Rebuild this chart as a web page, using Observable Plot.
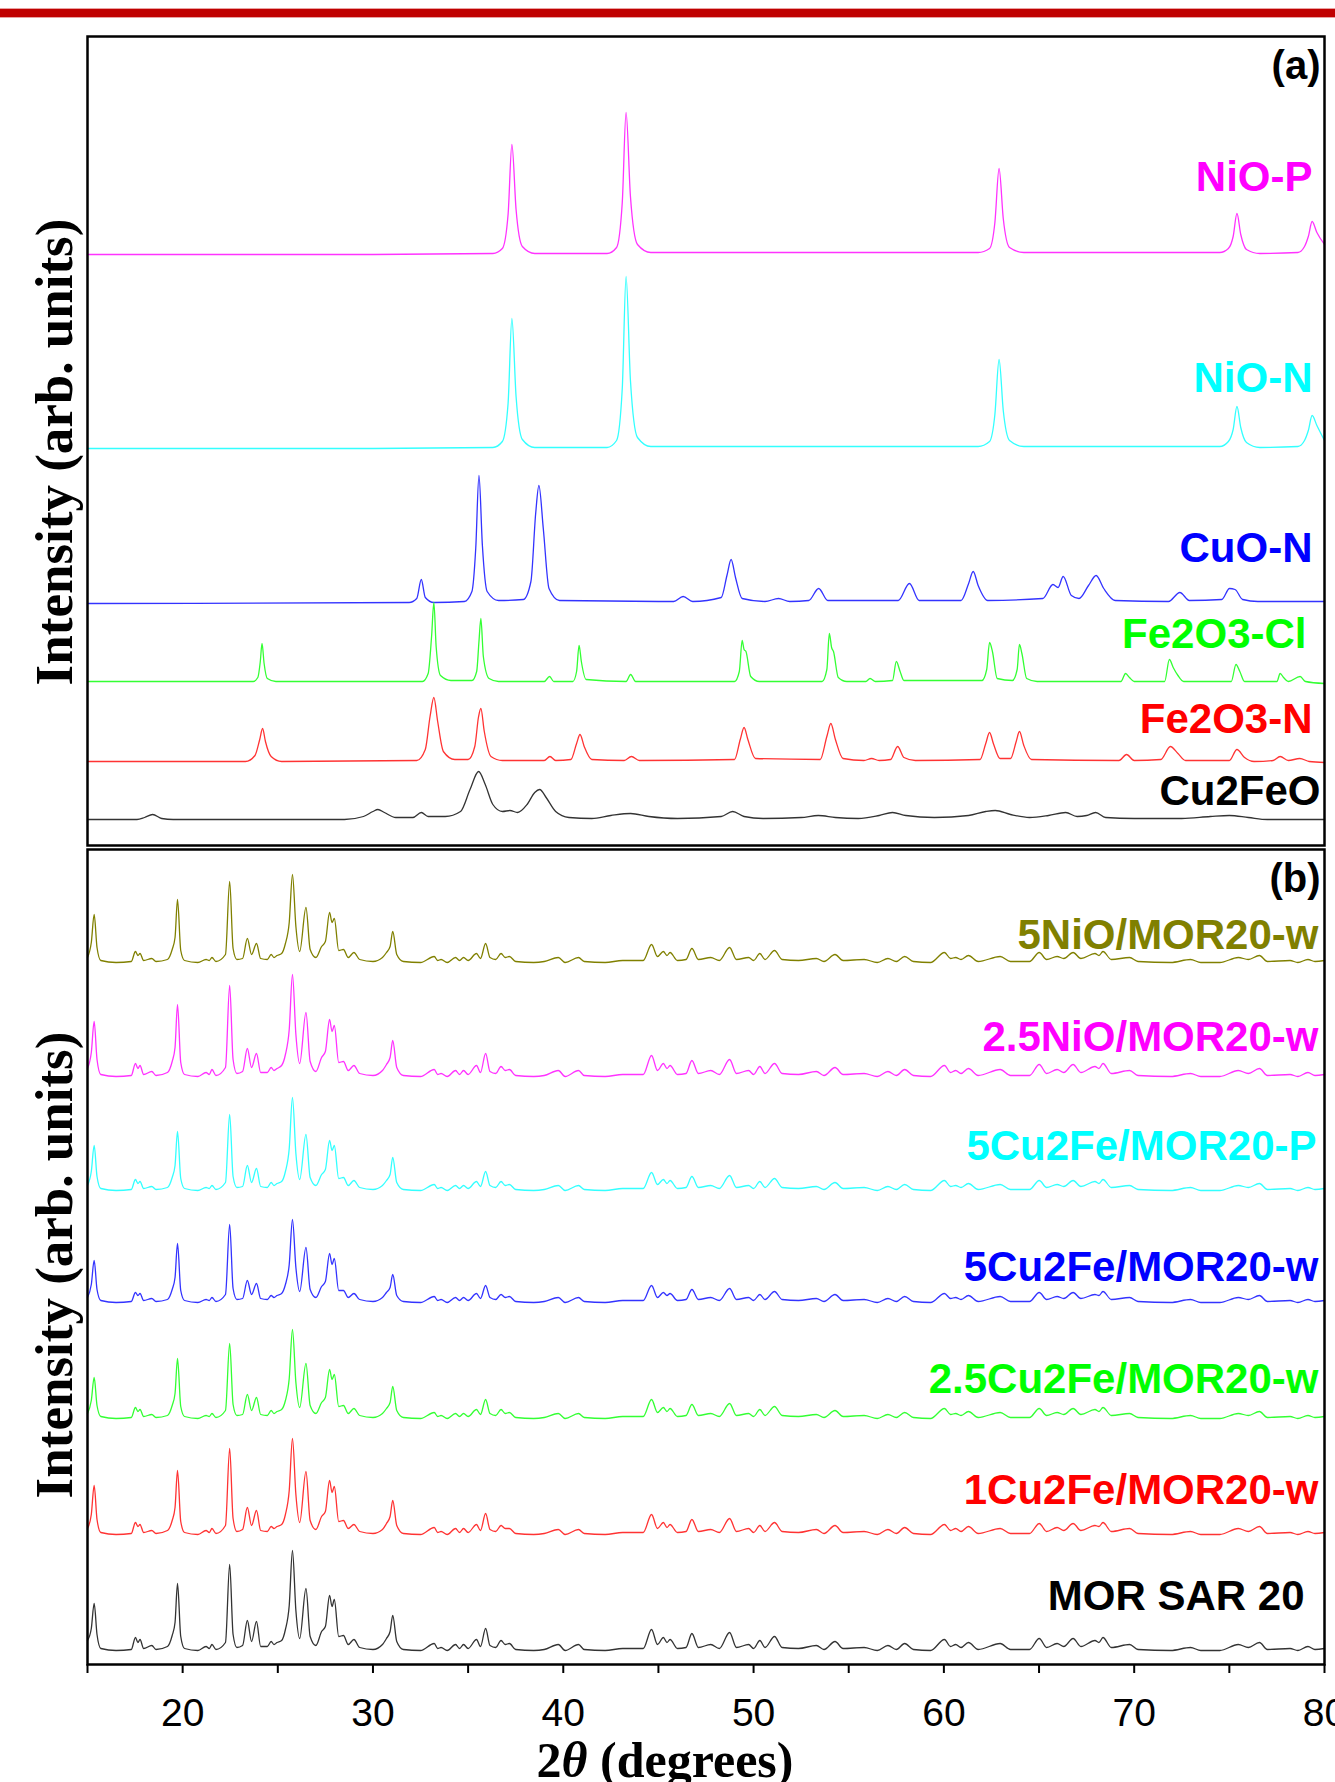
<!DOCTYPE html>
<html>
<head>
<meta charset="utf-8">
<script src="https://cdn.jsdelivr.net/npm/d3@7"></script>
<script src="https://cdn.jsdelivr.net/npm/@observablehq/plot@0.6"></script>
<style>
  html, body { margin: 0; padding: 0; background: #fff; }
  #page { position: relative; width: 1335px; height: 1782px; background: #fff; overflow: hidden; }
  #pa { position: absolute; left: 0; top: 0; }
  #pb { position: absolute; left: 0; top: 847px; }
  #bar { position: absolute; left: 0; top: 9px; width: 1335px; height: 8px; background: #c00000; z-index: 5;
         box-shadow: 0 -1px 0 #e9a0a0, 0 1px 0 #e9a0a0; }
</style>
</head>
<body>
<div id="page">
  <div id="pa"></div>
  <div id="pb"></div>
  <div id="bar"></div>
</div>
<script>
// ---------------- DATA ----------------
// x ticks
const xMinorTicks = [15, 20, 25, 30, 35, 40, 45, 50, 55, 60, 65, 70, 75, 80];
const xMajorTicks = [20, 30, 40, 50, 60, 70, 80];
const yTitle = "Intensity (arb. units)";
const xTitle = "2θ (degrees)";

// Panel (a): [2θ, intensity above the trace baseline]
const nioP = [[15,0],[30,0],[36.3,1],[36.8,6],[37.1,40],[37.3,110],[37.52,45],[37.85,8],[38.5,1],[42.3,1],[42.8,7],[43.1,52],[43.3,142],[43.53,58],[43.9,10],[44.6,2],[61.8,2],[62.4,6],[62.68,32],[62.9,86],[63.12,36],[63.45,7],[64.2,2],[74.5,2],[74.95,6],[75.2,18],[75.4,41],[75.6,20],[75.9,5],[76.6,1],[78.6,2],[78.95,8],[79.15,18],[79.35,33],[79.6,22],[80,10]];
const nioN = [[15,0],[30,0],[36.3,1],[36.8,7],[37.1,45],[37.3,130],[37.52,52],[37.85,9],[38.5,1],[42.3,1],[42.8,8],[43.1,60],[43.3,172],[43.53,68],[43.9,11],[44.6,2],[61.8,2],[62.4,7],[62.68,34],[62.9,89],[63.12,38],[63.45,8],[64.2,2],[74.5,2],[74.95,7],[75.2,19],[75.4,42],[75.6,21],[75.9,6],[76.6,1],[78.6,2],[78.95,8],[79.15,18],[79.35,33],[79.6,23],[80,8]];
const cuoN = [[15,0],[31.9,1],[32.3,5],[32.54,24],[32.75,6],[33.2,1],[34.8,2],[35.2,12],[35.4,55],[35.57,128],[35.75,58],[36.0,12],[36.6,3],[37.9,4],[38.3,22],[38.55,90],[38.72,118],[38.95,75],[39.25,15],[39.8,3],[45.8,2],[46.3,7],[46.8,2],[48.3,6],[48.6,28],[48.82,44],[49.05,26],[49.4,5],[50.6,2],[51.31,5],[51.9,2],[52.9,3],[53.42,15],[53.9,3],[57.6,3],[58.19,20],[58.7,3],[60.9,3],[61.3,20],[61.54,32],[61.8,18],[62.3,3],[65.2,5],[65.73,19],[66.0,16],[66.27,27],[66.7,8],[67.1,5],[67.6,18],[68.0,28],[68.4,15],[69.0,3],[71.8,2],[72.4,11],[72.9,3],[74.6,4],[75.01,15],[75.3,14],[75.7,4],[76.5,2],[80,2]];
const fe2o3Cl = [[15,0],[23.7,0],[23.95,4],[24.08,20],[24.17,38],[24.28,18],[24.45,3],[24.9,0],[32.6,0],[32.9,8],[33.08,45],[33.2,79],[33.32,35],[33.55,6],[34.1,1],[35.2,1],[35.45,10],[35.57,40],[35.67,63],[35.8,25],[36.1,3],[36.6,0],[39.0,0],[39.28,5],[39.5,0],[40.5,0],[40.7,10],[40.83,36],[40.95,20],[41.2,2],[43.3,0],[43.54,7],[43.8,0],[49.0,0],[49.25,10],[49.4,41],[49.5,32],[49.6,30],[49.85,5],[50.3,0],[53.6,0],[53.85,12],[53.98,48],[54.1,34],[54.2,30],[54.45,4],[54.9,0],[55.9,0],[56.12,3],[56.4,0],[57.3,1],[57.5,20],[57.7,10],[57.9,1],[62.0,1],[62.25,12],[62.4,39],[62.55,30],[62.8,3],[63.6,1],[63.85,12],[63.97,37],[64.1,28],[64.35,3],[64.9,0],[69.3,0],[69.55,8],[69.75,4],[70.0,0],[71.6,0],[71.85,22],[72.05,14],[72.3,6],[72.6,0],[75.1,0],[75.35,17],[75.55,10],[75.8,0],[77.5,0],[77.67,8],[77.85,4],[78.1,0],[78.72,5],[79.0,0],[80,-2]];
const fe2o3N = [[15,0],[23.3,0],[23.8,6],[24.05,22],[24.2,33],[24.35,20],[24.65,5],[25.2,0],[32.3,1],[32.75,12],[33.0,45],[33.2,64],[33.4,40],[33.7,10],[34.3,2],[35.0,2],[35.35,15],[35.55,45],[35.67,53],[35.85,30],[36.2,5],[36.8,1],[39.0,1],[39.3,5],[39.6,1],[40.4,2],[40.7,18],[40.88,27],[41.1,15],[41.5,2],[43.2,1],[43.58,5],[44.0,1],[49.0,2],[49.3,22],[49.5,34],[49.7,22],[50.1,3],[53.5,2],[53.85,25],[54.06,38],[54.3,22],[54.7,3],[55.8,1],[56.2,3],[56.6,1],[57.2,2],[57.57,15],[57.9,4],[58.5,1],[61.9,2],[62.2,18],[62.4,29],[62.6,18],[62.95,3],[63.5,3],[63.8,20],[63.97,30],[64.2,16],[64.6,2],[69.2,1],[69.6,7],[70.0,1],[71.4,2],[71.9,15],[72.3,8],[72.7,1],[75.0,1],[75.4,12],[75.8,4],[76.3,0],[77.3,1],[77.67,5],[78.1,1],[78.7,3],[79.2,0],[80,-1]];
const cu2feo = [[15,0],[17.6,0],[18.0,2],[18.42,5],[18.9,1],[19.5,0],[28.5,0],[29.5,3],[30.0,8],[30.26,10],[30.6,7],[31.2,2],[32.1,2],[32.54,7],[32.9,3],[33.8,3],[34.6,8],[35.1,30],[35.55,48],[35.9,35],[36.3,15],[36.8,8],[37.2,9],[37.6,7],[38.1,15],[38.5,27],[38.76,30],[39.1,22],[39.6,8],[40.3,2],[41.5,1],[42.5,4],[43.54,6],[44.5,3],[46,1],[48.3,3],[48.9,8],[49.5,3],[50.5,1],[52.5,2],[53.4,4],[54.3,2],[55.5,1],[56.6,4],[57.3,7],[58.0,4],[59.5,2],[61.3,4],[62.2,8],[62.7,9],[63.5,5],[64.5,2],[65.5,4],[66.4,7],[67.0,3],[67.5,4],[67.97,7],[68.5,2],[70,1],[72.5,1],[74.0,3],[75.0,4],[76.0,2],[77,0],[80,0]];

// Panel (b): shared 2θ grid, one intensity list per sample
const bTheta = [
15.0,15.2,15.35,15.5,15.7,16.5,17.3,17.52,17.65,17.76,
17.95,18.38,18.6,19.2,19.45,19.6,19.73,19.9,20.1,20.8,
21.23,21.4,21.54,21.75,22.25,22.47,22.65,22.85,23.15,23.4,
23.62,23.88,24.1,24.45,24.65,24.8,24.96,25.2,25.4,25.6,
25.77,25.95,26.15,26.48,26.7,27.0,27.3,27.5,27.72,27.85,
27.97,28.2,28.45,28.7,29.0,29.3,30.0,30.5,30.71,30.9,
31.04,31.25,31.6,32.5,33.22,33.4,33.58,33.9,34.34,34.55,
34.76,35.0,35.44,35.65,35.92,36.15,36.45,36.73,36.95,37.17,
37.5,38.45,39.0,39.74,40.1,40.8,41.1,42.2,43.12,44.2,
44.64,44.95,45.26,45.45,45.61,46.0,46.45,46.76,47.1,47.75,
48.2,48.74,49.1,49.74,50.0,50.33,50.6,51.1,51.5,52.36,
53.3,53.7,54.28,54.7,55.81,56.5,57.06,57.5,57.94,58.4,
59.3,60.03,60.35,60.62,60.9,61.29,61.8,62.96,63.5,64.5,
65.01,65.4,65.95,66.3,66.79,67.2,67.94,68.15,68.36,68.8,
69.76,70.2,71.92,72.96,73.5,74.5,75.47,76.0,76.58,77.0,
78.19,78.6,79.13,79.5,80.0];

const morSAR20 = [
10,22,47,16,2,0,1,13,8,11,
2,5,1,4,15,28,67,14,2,0,
4,2,6,1,8,86,16,3,5,30,
9,29,4,4,9,6,8,10,21,45,
100,40,12,62,14,5,19,24,55,44,
51,14,15,6,11,3,1,6,12,19,
35,9,1,0,7,2,3,0,6,2,
6,2,11,4,22,5,3,10,6,7,
1,0,1,6,0,6,1,0,2,2,
21,6,13,8,11,2,3,17,3,6,
2,18,3,6,2,10,3,14,3,2,
5,1,9,2,3,0,5,1,7,1,
0,11,4,6,3,8,1,7,1,1,
12,3,7,4,12,4,10,8,13,3,
6,1,0,3,0,0,6,3,8,1,
2,0,4,1,2];
const cu1MOR = [
6,20,49,15,2,0,1,12,8,10,
2,4,1,4,14,27,64,13,2,0,
4,2,6,1,9,86,16,3,5,27,
9,24,4,3,8,6,8,10,20,44,
96,40,12,63,14,5,18,23,54,42,
48,13,14,6,10,3,1,5,11,18,
34,9,1,0,7,2,3,0,6,2,
6,2,10,4,21,5,3,9,6,6,
1,0,1,5,0,5,1,0,2,2,
20,6,12,7,10,2,3,15,3,5,
2,16,3,6,2,9,3,12,3,2,
5,1,9,2,3,0,5,1,7,1,
0,10,4,6,3,8,1,6,1,1,
11,3,7,4,11,4,9,8,12,3,
6,1,0,3,0,0,6,3,8,1,
2,0,3,1,2];
const cu25MOR = [
5,18,41,13,2,0,1,11,7,9,
2,4,1,3,13,25,60,12,2,0,
3,2,5,1,8,75,14,3,4,24,
8,21,4,3,8,5,7,9,18,40,
89,36,11,55,13,5,16,21,49,39,
44,12,13,5,10,3,1,5,10,16,
32,8,1,0,6,2,3,0,5,2,
5,2,9,4,19,5,3,9,5,6,
1,0,1,5,0,5,1,0,2,2,
19,6,11,7,10,2,3,14,3,5,
2,15,3,5,2,9,3,12,3,2,
4,1,8,2,3,0,4,1,6,1,
0,10,4,5,3,7,1,6,1,1,
10,3,6,4,10,4,9,7,11,3,
5,1,0,3,0,0,5,3,7,1,
2,0,3,1,2];
const cu5MORw = [
5,18,42,13,2,0,1,10,7,9,
2,4,1,3,13,25,59,12,2,0,
3,2,5,1,8,78,14,3,4,22,
8,19,4,3,7,5,7,9,18,38,
83,35,11,55,13,5,16,21,49,38,
44,12,12,5,9,3,1,5,10,15,
28,7,1,0,6,2,3,0,5,2,
5,2,9,4,17,5,3,8,5,6,
1,0,1,5,0,5,1,0,2,2,
17,5,10,7,9,2,3,13,3,5,
2,14,3,5,2,8,3,11,3,2,
4,1,8,2,3,0,4,1,6,1,
0,9,4,5,3,7,1,6,1,1,
10,3,6,4,10,4,8,7,11,3,
5,1,0,3,0,0,5,3,7,1,
2,0,3,1,2];
const cu5MORp = [
5,19,45,14,2,0,1,11,7,9,
2,4,1,3,13,25,59,12,2,0,
3,2,5,1,8,76,14,3,4,25,
8,22,4,3,8,5,7,9,19,42,
93,37,11,56,13,5,16,21,50,40,
45,12,13,5,10,3,1,5,10,16,
33,8,1,0,6,2,3,0,5,2,
5,2,9,4,19,5,3,9,5,6,
1,0,1,5,0,5,1,0,2,2,
18,6,11,7,10,2,3,14,3,5,
2,15,3,5,2,9,3,12,3,2,
4,1,8,2,3,0,4,1,6,1,
0,10,4,5,3,7,1,6,1,1,
10,3,6,4,10,4,9,7,11,3,
5,1,0,3,0,0,5,3,7,1,
2,0,3,1,2];
const ni25MOR = [
8,24,55,17,2,0,1,13,8,11,
2,5,1,4,15,29,72,14,2,0,
4,2,7,1,9,91,17,3,5,28,
9,23,4,4,9,6,8,11,22,47,
102,42,13,64,15,5,19,25,57,45,
51,14,15,6,11,3,1,6,12,19,
36,9,1,0,7,2,3,0,6,2,
6,2,11,4,23,5,3,10,6,7,
1,0,1,6,0,6,1,0,2,2,
21,6,13,8,11,2,3,16,3,6,
2,17,3,6,2,10,3,13,3,2,
5,1,9,2,3,0,5,1,7,1,
0,11,4,6,3,8,1,7,1,1,
12,3,7,4,12,4,10,8,13,3,
6,1,0,3,0,0,6,3,8,1,
2,0,4,1,2];
const ni5MOR = [
5,20,48,15,2,0,1,11,7,9,
2,4,1,3,13,25,63,12,2,0,
3,2,5,1,8,81,14,3,4,24,
8,19,4,3,8,5,7,9,19,40,
88,36,11,55,13,5,16,21,50,40,
44,12,13,5,10,3,1,5,10,16,
31,8,1,0,6,2,3,0,5,2,
5,2,9,4,19,5,3,9,5,6,
1,0,1,5,0,5,1,0,2,2,
18,6,11,7,10,2,3,14,3,5,
2,15,3,5,2,9,3,12,3,2,
4,1,8,2,3,0,4,1,6,1,
0,10,4,5,3,7,1,6,1,1,
10,3,6,4,10,4,9,7,11,3,
5,1,0,3,0,0,5,3,7,1,
2,0,3,1,2];

// series names, vertical stacking offsets (a.u.) and label lift (a.u.)
const namesA   = ["NiO-P", "NiO-N", "CuO-N", "Fe2O3-Cl", "Fe2O3-N", "Cu2FeO"];
const offsetsA = [591, 397, 242, 164, 84, 26];
const labelLiftA = [77, 70, 55, 47, 42, 28];
const colorsA  = ["#ff00ff", "#00ffff", "#0000ff", "#00ff00", "#ff0000", "#000000"];
const lineColorsA = ["#ff33ff", "#33ffff", "#3333ff", "#33ff33", "#ff3333", "#333333"];
const seriesA  = [nioP, nioN, cuoN, fe2o3Cl, fe2o3N, cu2feo];

const namesB   = ["5NiO/MOR20-w", "2.5NiO/MOR20-w", "5Cu2Fe/MOR20-P", "5Cu2Fe/MOR20-w", "2.5Cu2Fe/MOR20-w", "1Cu2Fe/MOR20-w", "MOR SAR 20"];
const offsetsB = [702, 588, 474, 362, 246, 130, 14];
const labelLiftB = [27, 39, 44, 35, 39, 44, 54];
const colorsB  = ["#808000", "#ff00ff", "#00ffff", "#0000ff", "#00ff00", "#ff0000", "#000000"];
const lineColorsB = ["#808000", "#ff33ff", "#33ffff", "#3333ff", "#33ff33", "#ff3333", "#333333"];
const seriesB  = [ni5MOR, ni25MOR, cu5MORp, cu5MORw, cu25MOR, cu1MOR, morSAR20];

// ---------------- TABLES ----------------
const rowsA = [];
seriesA.forEach((s, i) => s.forEach(([t, v]) => rowsA.push({name: namesA[i], t, y: offsetsA[i] + v, c: lineColorsA[i]})));
const labelsA = namesA.map((n, i) => ({name: n, y: offsetsA[i] + labelLiftA[i], c: colorsA[i]}));

const rowsB = [];
seriesB.forEach((s, i) => {
  const n = Math.min(s.length, bTheta.length);
  for (let k = 0; k < n; k++) rowsB.push({name: namesB[i], t: bTheta[k], y: offsetsB[i] + s[k], c: lineColorsB[i]});
});
const labelsB = namesB.map((n, i) => ({name: n, y: offsetsB[i] + labelLiftB[i], c: colorsB[i]}));

const labelDxA = [-12, -12, -12, -18, -12, -4];
const labelDxB = [-6, -6, -8, -6, -6, -6, -20];

const sans = "'Liberation Sans', Arial, sans-serif";
const serif = "'Liberation Serif', 'Times New Roman', serif";

function labelMarks(labels, dxs) {
  return labels.map((l, i) => Plot.text([l], {
    frameAnchor: "right", y: "y", text: "name", fill: "c",
    textAnchor: "end", dx: dxs[i], fontSize: 42, fontWeight: "bold", fontFamily: sans
  }));
}

// ---------------- PANEL A ----------------
const plotA = Plot.plot({
  width: 1335, height: 847,
  marginLeft: 87, marginRight: 11, marginTop: 36, marginBottom: 2,
  x: {domain: [15, 80], axis: null},
  y: {domain: [0, 809], axis: null},
  color: {type: "identity"},
  style: {background: "transparent", overflow: "visible"},
  marks: [
    Plot.line(rowsA, {x: "t", y: "y", z: "name", stroke: "c", strokeWidth: 1.3, curve: "monotone-x"}),
    Plot.frame({stroke: "#000", strokeWidth: 2.5}),
    ...labelMarks(labelsA, labelDxA),
    Plot.text(["(a)"], {frameAnchor: "top-right", textAnchor: "end", lineAnchor: "middle", dx: -4, dy: 30, fontSize: 40, fontWeight: "bold", fontFamily: sans, fill: "#000"}),
    Plot.text([yTitle], {frameAnchor: "left", textAnchor: "middle", lineAnchor: "middle", dx: -32, dy: 11, rotate: -90, fontSize: 53, fontWeight: "bold", fontFamily: serif, fill: "#000"})
  ]
});
document.getElementById("pa").appendChild(plotA);

// ---------------- PANEL B ----------------
const plotB = Plot.plot({
  width: 1335, height: 935,
  marginLeft: 87, marginRight: 11, marginTop: 2, marginBottom: 118,
  x: {domain: [15, 80]},
  y: {domain: [0, 815], axis: null},
  color: {type: "identity"},
  style: {background: "transparent", overflow: "visible"},
  marks: [
    Plot.line(rowsB, {x: "t", y: "y", z: "name", stroke: "c", strokeWidth: 1.3, curve: "monotone-x"}),
    Plot.frame({stroke: "#000", strokeWidth: 2.5}),
    Plot.axisX(xMinorTicks, {anchor: "bottom", tickSize: 9, tickFormat: () => "", strokeWidth: 2, stroke: "#000", label: null}),
    Plot.axisX(xMajorTicks, {anchor: "bottom", tickSize: 0, tickPadding: 34, fontSize: 39, fontFamily: sans, fill: "#000", label: null}),
    ...labelMarks(labelsB, labelDxB),
    Plot.text(["(b)"], {frameAnchor: "top-right", textAnchor: "end", lineAnchor: "middle", dx: -4, dy: 30, fontSize: 40, fontWeight: "bold", fontFamily: sans, fill: "#000"}),
    Plot.text([yTitle], {frameAnchor: "left", textAnchor: "middle", lineAnchor: "middle", dx: -32, dy: 8, rotate: -90, fontSize: 53, fontWeight: "bold", fontFamily: serif, fill: "#000"}),
    Plot.text([xTitle], {frameAnchor: "bottom", lineAnchor: "middle", dx: -41, dy: 96, fontSize: 50, fontWeight: "bold", fontFamily: serif, fill: "#000"})
  ]
});
document.getElementById("pb").appendChild(plotB);

// italic theta in the x title
plotB.querySelectorAll("text").forEach(el => {
  if (el.textContent === xTitle) {
    el.textContent = "";
    const ns = "http://www.w3.org/2000/svg";
    const a = document.createElementNS(ns, "tspan"); a.textContent = "2";
    const b = document.createElementNS(ns, "tspan"); b.textContent = "θ"; b.setAttribute("font-style", "italic");
    const c = document.createElementNS(ns, "tspan"); c.textContent = " (degrees)";
    el.append(a, b, c);
  }
});
</script>
</body>
</html>
